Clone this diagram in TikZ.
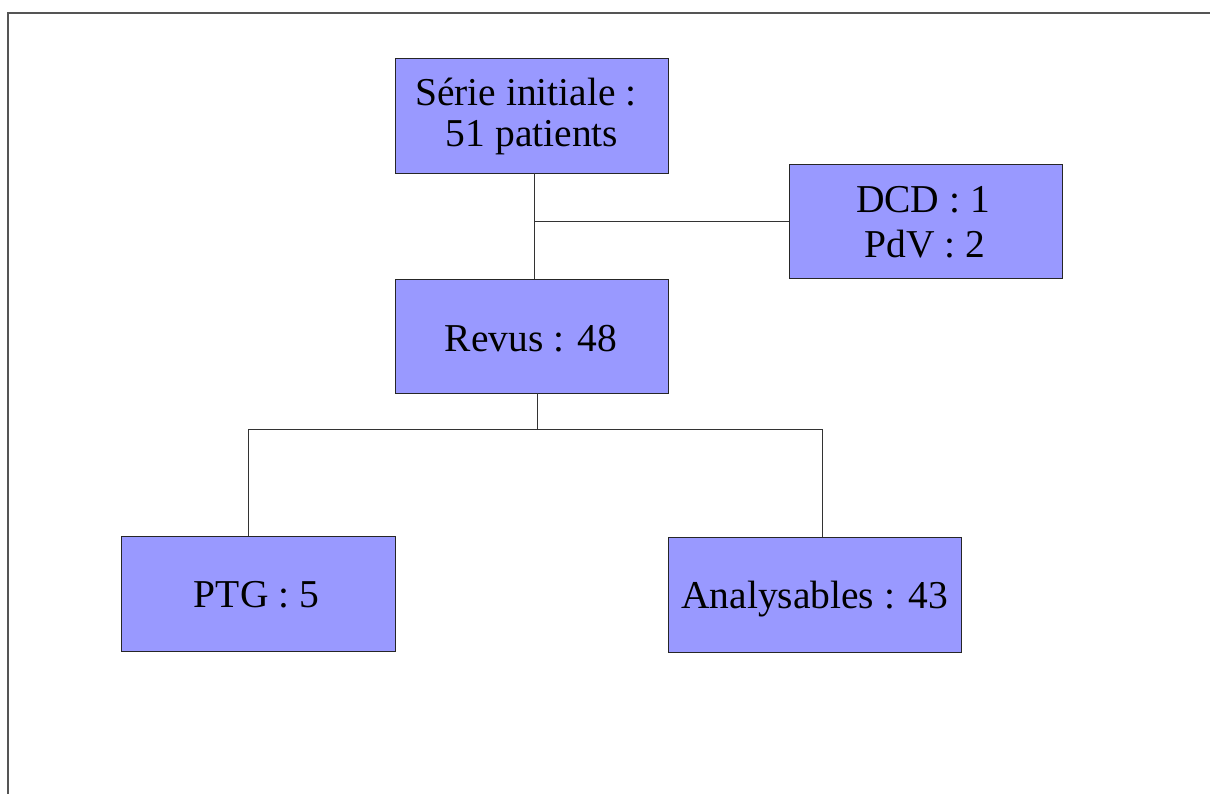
\documentclass[tikz,border=0pt]{standalone}
\usepackage{fontspec}
\setmainfont{Liberation Serif}
\definecolor{boxfill}{HTML}{9999FF}
\definecolor{framegray}{HTML}{555555}
\tikzset{
  box/.style={draw=black!85, line width=0.9pt, fill=boxfill, rectangle, inner sep=0pt},
  txt/.style={anchor=base, inner sep=0pt, font=\fontsize{39.5}{42}\selectfont},
  link/.style={draw=black!80, line width=0.9pt},
  frameline/.style={draw=framegray, line width=1.6pt}
}
\begin{document}
\begin{tikzpicture}[x=1pt,y=-1pt]
\useasboundingbox (0,0) rectangle (1210,794);
\draw[frameline] (8,794) -- (8,13) -- (1210,13);
\node[box, minimum width=273pt, minimum height=115pt] (ser) at (531.5,115.5) {};
\node[box, minimum width=273pt, minimum height=114pt] (dcd) at (925.5,221) {};
\node[box, minimum width=273pt, minimum height=114pt] (rev) at (531.5,336) {};
\node[box, minimum width=274pt, minimum height=115pt] (ptg) at (258,593.5) {};
\node[box, minimum width=293pt, minimum height=115pt] (ana) at (814.5,594.5) {};
\node[txt] (ser1) at (526,106) {Série initiale :};
\node[txt] (ser2) at (532,147) {51 patients};
\node[txt] (dcd1) at (923,213) {DCD : 1};
\node[txt] (dcd2) at (925,258) {PdV : 2};
\node[txt] (revt) at (531,351) {Revus : 48};
\node[txt] (ptgt) at (256.5,607) {PTG : 5};
\node[txt] (anat) at (814.5,608) {Analysables : 43};
\coordinate (j1) at (534,221);
\coordinate (j2) at (537,429);
\coordinate (j3) at (248,429);
\coordinate (j4) at (822,429);
\draw[link] (ser.south -| j1) -- (rev.north -| j1);
\draw[link] (j1) -- (dcd.west);
\draw[link] (rev.south -| j2) -- (j2);
\draw[link] (ptg.north -| j3) -- (j3) -- (j4) -- (ana.north -| j4);
\end{tikzpicture}
\end{document}
